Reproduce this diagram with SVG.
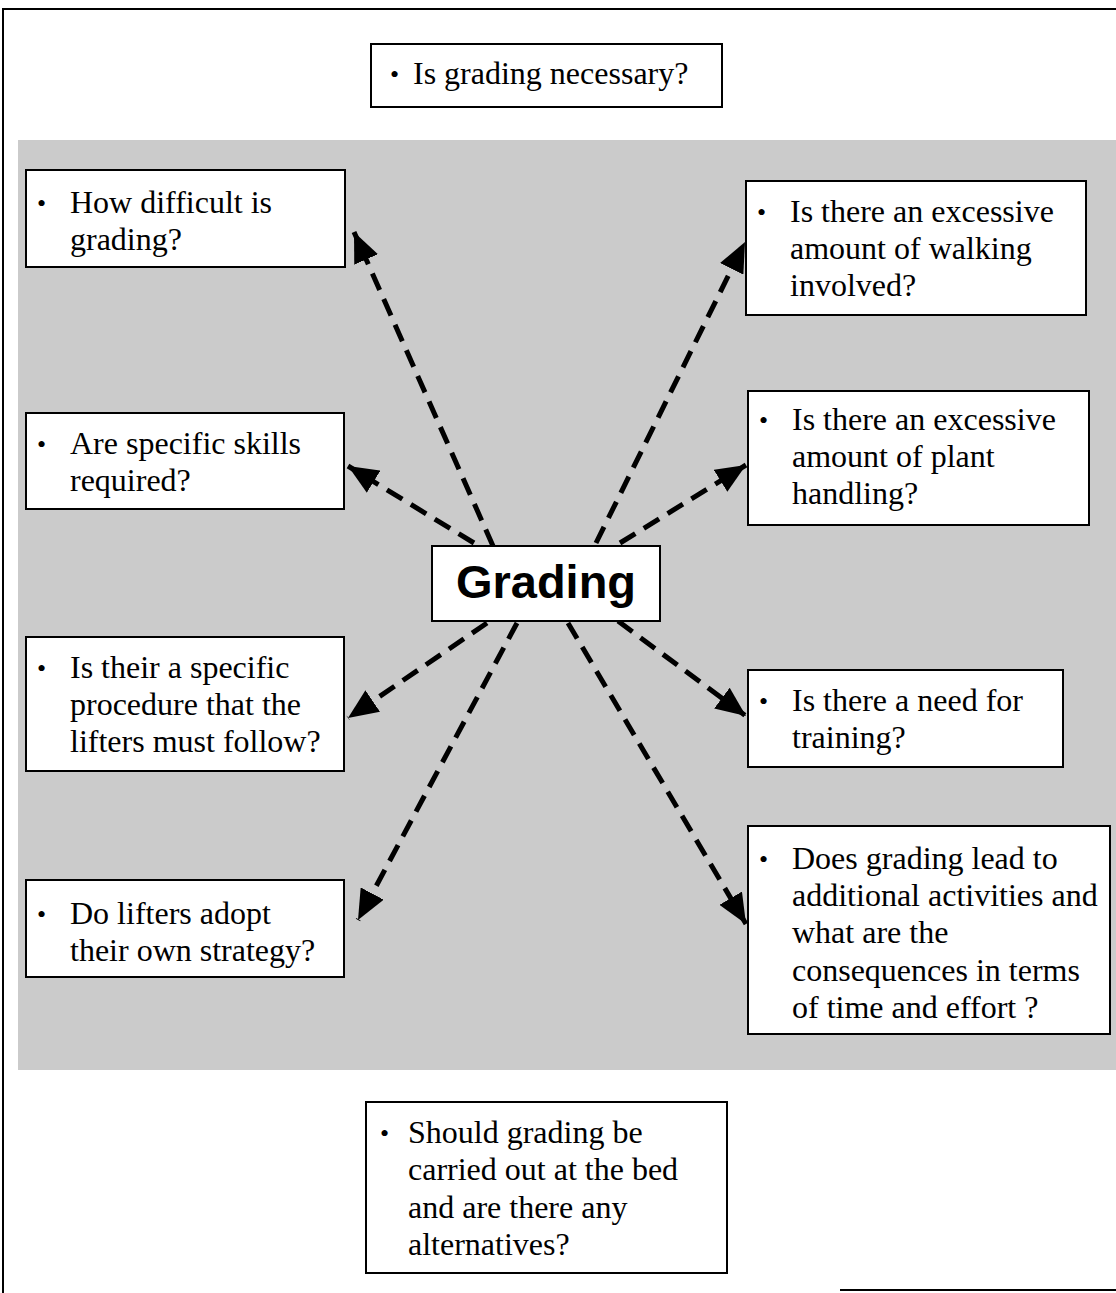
<svg xmlns="http://www.w3.org/2000/svg" width="1116" height="1293" viewBox="0 0 1116 1293">
<style>
.box{fill:#fff;stroke:#000;stroke-width:2}
.t{font-family:"Liberation Serif","Times New Roman",serif;font-size:32px;fill:#000}
.b{font-family:"Liberation Serif","Times New Roman",serif;font-size:26px;fill:#000}
.main{font-family:"Liberation Sans",Arial,sans-serif;font-weight:bold;font-size:47px;fill:#000}
.c{fill:none;stroke:#000;stroke-width:5;stroke-dasharray:18 10}
</style>
<defs>
<marker id="ah" markerUnits="userSpaceOnUse" markerWidth="32" markerHeight="26" refX="30" refY="13" orient="auto">
<path d="M0,0 L30,13 L0,26 Z" fill="#000"/>
</marker>
</defs>
<rect x="0" y="0" width="1116" height="1293" fill="#fff"/>
<rect x="18" y="140" width="1098" height="930" fill="#cbcbcb"/>
<g id="frame" fill="none" stroke="#000" stroke-width="2">
<path d="M3,1293 L3,9 L1116,9"/>
<path d="M840,1290 L1116,1290"/>
</g>
<g id="connectors">
<path class="c" d="M493,546 L354,232" marker-end="url(#ah)"/>
<path class="c" d="M474,543 L348,466" marker-end="url(#ah)"/>
<path class="c" d="M596,543 L745,242" marker-end="url(#ah)"/>
<path class="c" d="M620,543 L746,465" marker-end="url(#ah)"/>
<path class="c" d="M487,623 L348,718" marker-end="url(#ah)"/>
<path class="c" d="M517,623 L358,920" marker-end="url(#ah)"/>
<path class="c" d="M568,623 L746,924" marker-end="url(#ah)"/>
<path class="c" d="M618,621 L746,716" marker-end="url(#ah)"/>
</g>
<g id="n-necessary">
<rect class="box" x="371" y="44" width="351" height="63"/>
<text class="b" x="390" y="83">•</text>
<text class="t" x="413" y="84">Is grading necessary?</text>
</g>
<g id="n-difficult">
<rect class="box" x="26" y="170" width="319" height="97"/>
<text class="b" x="37" y="212">•</text>
<text class="t" x="70" y="213">How difficult is</text>
<text class="t" x="70" y="250">grading?</text>
</g>
<g id="n-walking">
<rect class="box" x="746" y="181" width="340" height="134"/>
<text class="b" x="757" y="221">•</text>
<text class="t" x="790" y="222">Is there an excessive</text>
<text class="t" x="790" y="259">amount of walking</text>
<text class="t" x="790" y="296">involved?</text>
</g>
<g id="n-skills">
<rect class="box" x="26" y="413" width="318" height="96"/>
<text class="b" x="37" y="453">•</text>
<text class="t" x="70" y="454">Are specific skills</text>
<text class="t" x="70" y="491">required?</text>
</g>
<g id="n-plant">
<rect class="box" x="748" y="391" width="341" height="134"/>
<text class="b" x="759" y="429">•</text>
<text class="t" x="792" y="430">Is there an excessive</text>
<text class="t" x="792" y="467">amount of plant</text>
<text class="t" x="792" y="504">handling?</text>
</g>
<g id="n-grading">
<rect class="box" x="432" y="546" width="228" height="75"/>
<text class="main" x="546" y="598" text-anchor="middle">Grading</text>
</g>
<g id="n-procedure">
<rect class="box" x="26" y="637" width="318" height="134"/>
<text class="b" x="37" y="677">•</text>
<text class="t" x="70" y="678">Is their a specific</text>
<text class="t" x="70" y="715">procedure that the</text>
<text class="t" x="70" y="752">lifters must follow?</text>
</g>
<g id="n-training">
<rect class="box" x="748" y="670" width="315" height="97"/>
<text class="b" x="759" y="710">•</text>
<text class="t" x="792" y="711">Is there a need for</text>
<text class="t" x="792" y="748">training?</text>
</g>
<g id="n-strategy">
<rect class="box" x="26" y="880" width="318" height="97"/>
<text class="b" x="37" y="923">•</text>
<text class="t" x="70" y="924">Do lifters adopt</text>
<text class="t" x="70" y="961">their own strategy?</text>
</g>
<g id="n-additional">
<rect class="box" x="748" y="826" width="362" height="208"/>
<text class="b" x="759" y="868">•</text>
<text class="t" x="792" y="869">Does grading lead to</text>
<text class="t" x="792" y="906">additional activities and</text>
<text class="t" x="792" y="943">what are the</text>
<text class="t" x="792" y="981">consequences in terms</text>
<text class="t" x="792" y="1018">of time and effort ?</text>
</g>
<g id="n-bed">
<rect class="box" x="366" y="1102" width="361" height="171"/>
<text class="b" x="380" y="1142">•</text>
<text class="t" x="408" y="1143">Should grading be</text>
<text class="t" x="408" y="1180">carried out at the bed</text>
<text class="t" x="408" y="1218">and are there any</text>
<text class="t" x="408" y="1255">alternatives?</text>
</g>
</svg>
